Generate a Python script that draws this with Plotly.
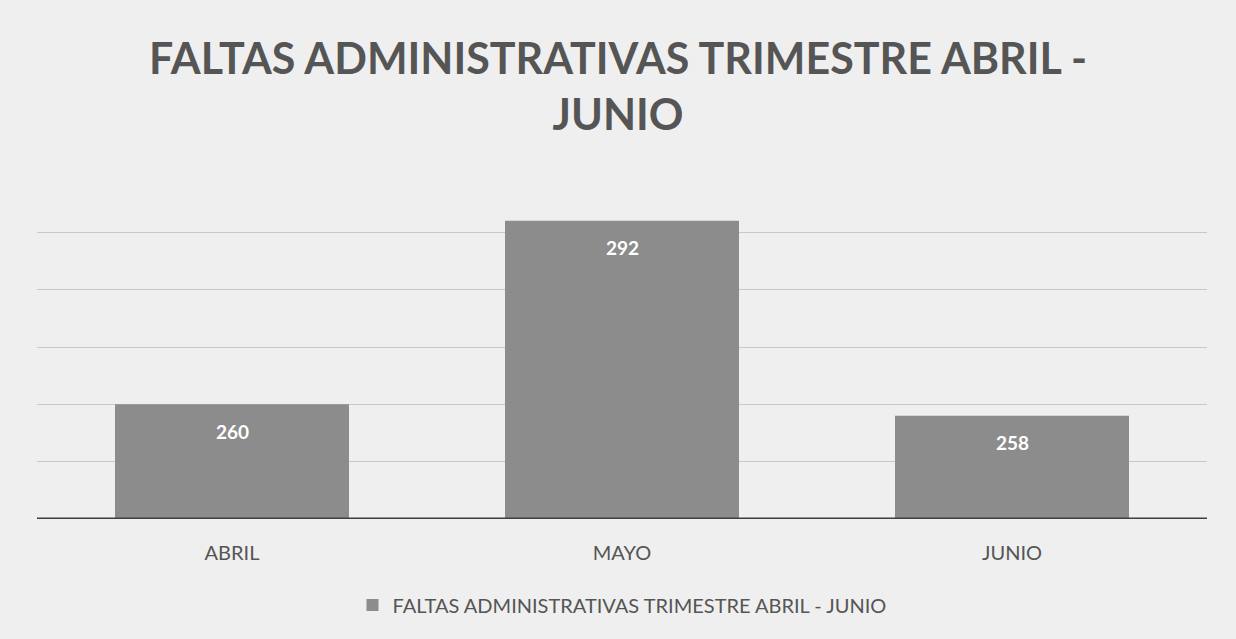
import plotly.graph_objects as go

categories = ["ABRIL", "MAYO", "JUNIO"]
values = [260, 292, 258]
series_name = "FALTAS ADMINISTRATIVAS TRIMESTRE ABRIL - JUNIO"
title_text = "FALTAS ADMINISTRATIVAS TRIMESTRE ABRIL -<br>JUNIO"

bar_color = "#8c8c8c"
text_gray = "#555555"
bg = "#efefef"

fig = go.Figure()
fig.add_trace(go.Bar(
    x=categories, y=values, name=series_name,
    marker=dict(color=bar_color, line=dict(width=0)),
    showlegend=True,
))

for c, v in zip(categories, values):
    fig.add_annotation(x=c, y=v, text=str(v), showarrow=False, yshift=-27,
                       font=dict(family="Lato", size=19, color="white", weight="bold"))

H = 639
fig.update_layout(
    width=1236, height=H,
    margin=dict(l=37, r=29, t=175, b=120),
    paper_bgcolor=bg, plot_bgcolor=bg,
    bargap=0.4,
    title=dict(text=title_text, x=0.5, xanchor="center", y=1 - 74 / H, yanchor="top",
               font=dict(family="Lato", size=43, color=text_gray, weight="bold")),
    xaxis=dict(showgrid=False, tickfont=dict(family="Lato", size=20, color=text_gray),
               ticks="", showline=False, ticklabelstandoff=20),
    yaxis=dict(range=[240, 300], dtick=10, showticklabels=False, showgrid=True,
               gridcolor="#c8c8c8", gridwidth=1, zeroline=False, showline=False),
    legend=dict(orientation="h", x=0.5, xanchor="center", y=-0.25, yanchor="middle",
                font=dict(family="Lato", size=20, color=text_gray), bgcolor="rgba(0,0,0,0)",
                itemwidth=30),
    shapes=[dict(type="line", xref="paper", yref="y", x0=0, x1=1, y0=240, y1=240,
                 line=dict(color="#3f3f3f", width=3))],
)

fig.write_html("out.html", post_script="document.body.style.margin='0';",
               config={"displayModeBar": False})
